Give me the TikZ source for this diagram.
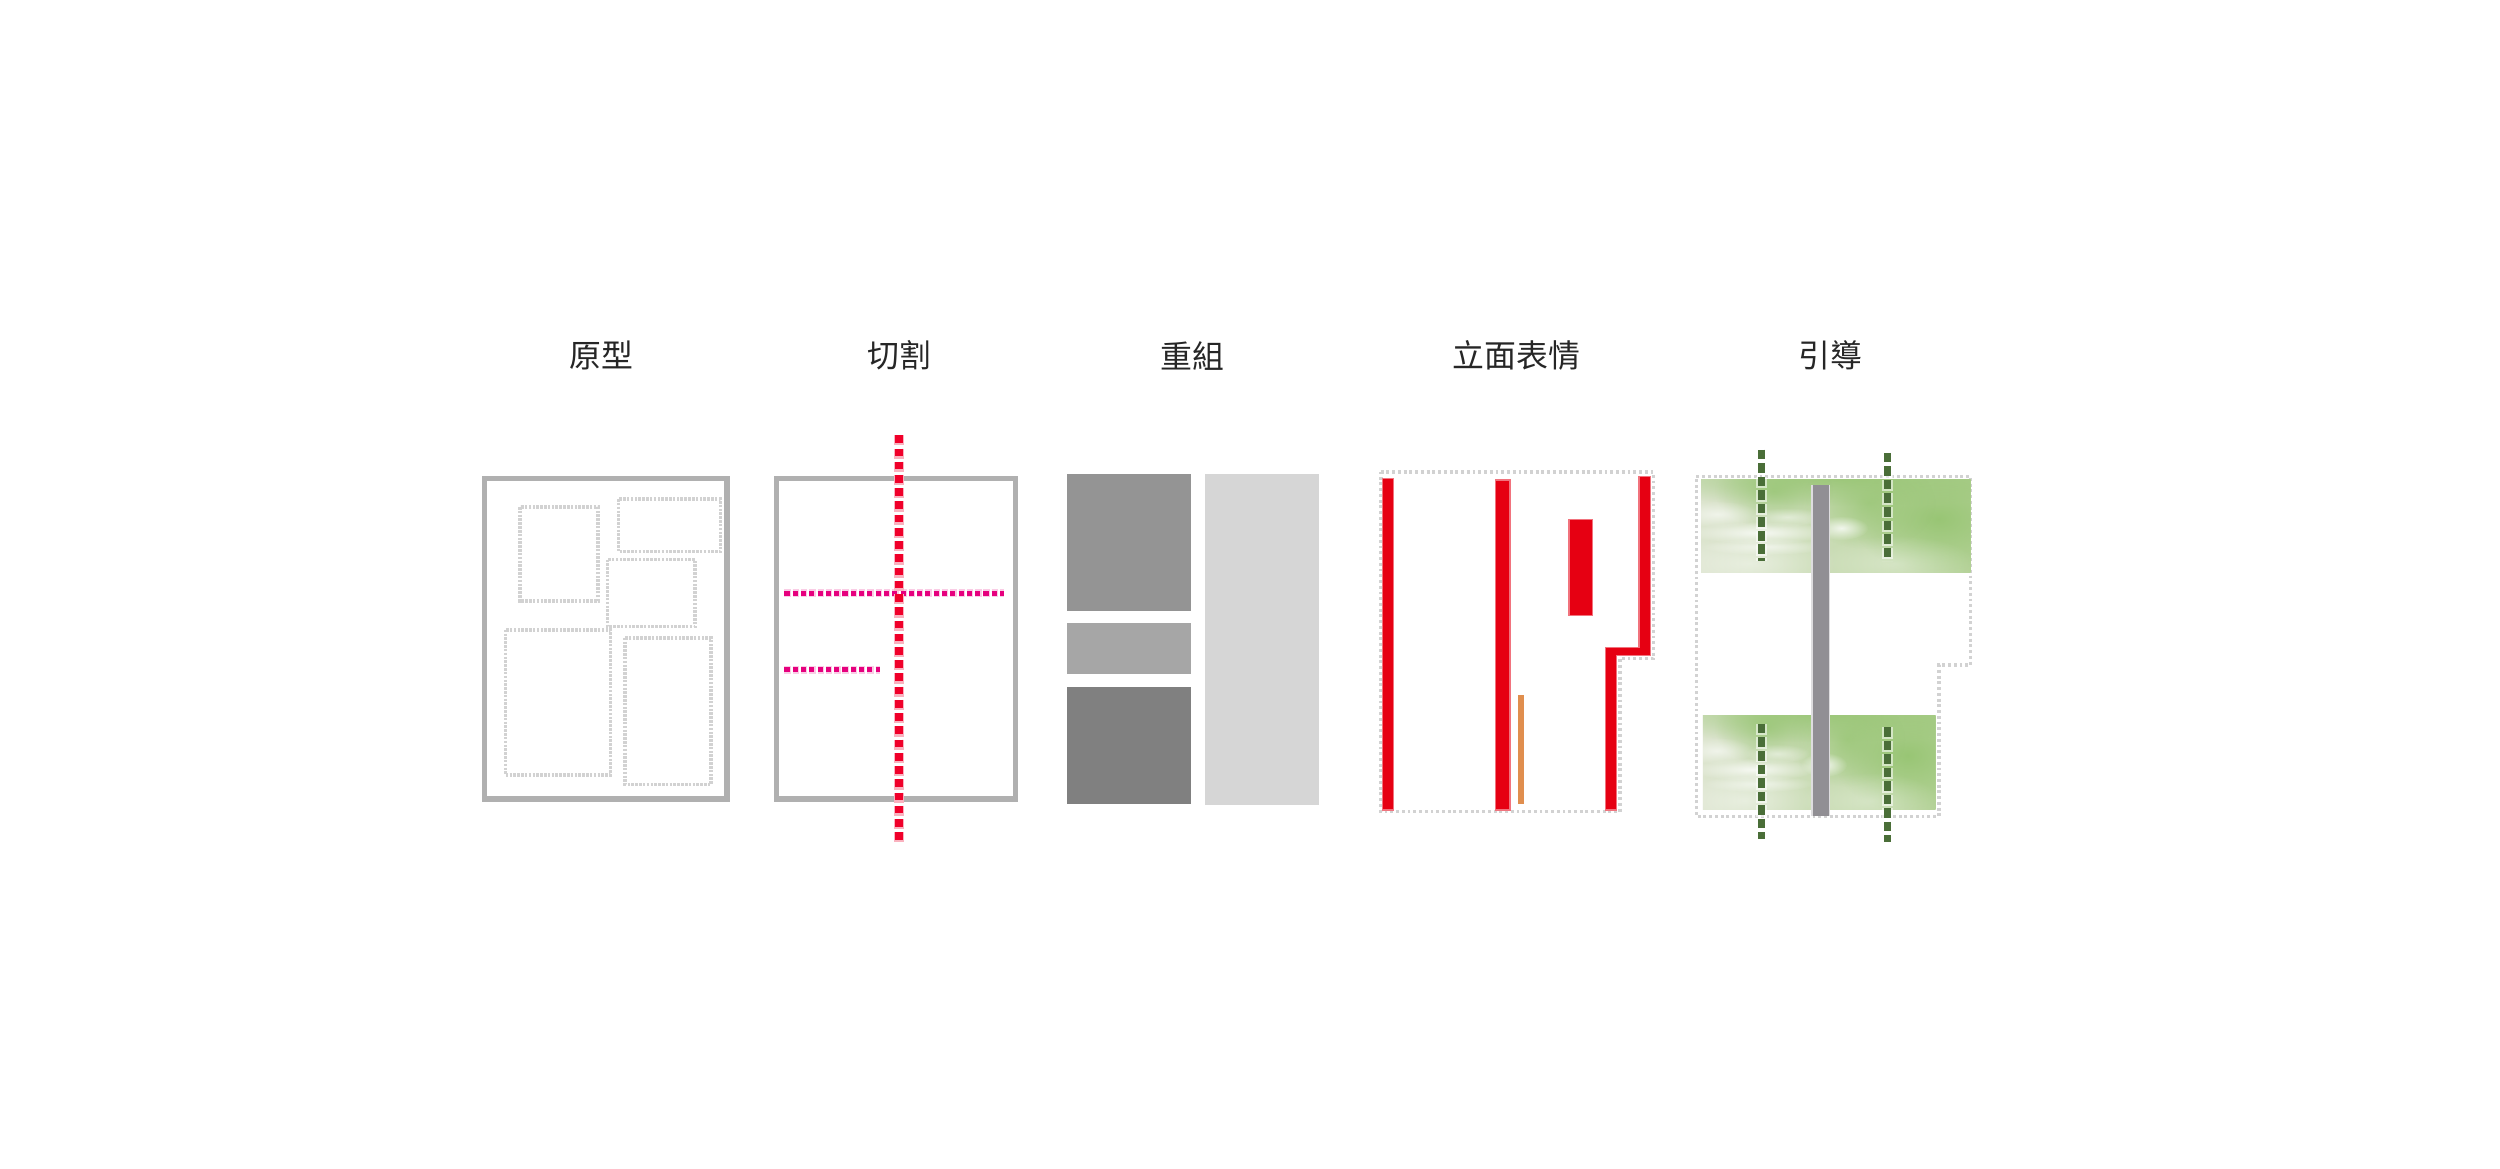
\documentclass[tikz,border=0pt]{standalone}
\usepackage{fontspec}
\newfontfamily\cjkfont{Noto Sans CJK TC}
\usetikzlibrary{fadings}
\tikzfading[name=blobfade, inner color=transparent!0, outer color=transparent!100]
\definecolor{frameg}{HTML}{B0B0B0}
\definecolor{dotg}{HTML}{D2D2D2}
\definecolor{redcut}{HTML}{F0002A}
\definecolor{magcut}{HTML}{E6007E}
\definecolor{redbar}{HTML}{E60012}
\definecolor{orangebar}{HTML}{E08E4E}
\definecolor{barg}{HTML}{918F94}
\definecolor{dashg}{HTML}{4A6E38}
\definecolor{greenpale}{HTML}{DCE4CE}
\definecolor{greenmid}{HTML}{B4D297}
\definecolor{greendeep}{HTML}{95C470}
\tikzset{
  titlelabel/.style={font=\cjkfont\fontsize{10pt}{12pt}\selectfont, text=black!85, inner sep=0pt},
  frame/.style={draw=frameg, line width=1.7pt, fill=white},
  innerdot/.style={draw=dotg, line width=1.1pt, dash pattern=on 0.8pt off 0.4pt},
  outlinedot/.style={draw=dotg, line width=1.1pt, dash pattern=on 0.9pt off 0.9pt},
  redcutline/.style={draw=redcut, line width=2.4pt, dash pattern=on 2.4pt off 1.75pt},
  redhalo/.style={draw=redcut!30, line width=3pt, dash pattern=on 3.2pt off 0.95pt},
  magline/.style={draw=magcut, line width=1.6pt, dash pattern=on 1.6pt off 1pt},
  maghalo/.style={draw=magcut!20, line width=2.6pt, dash pattern=on 2.0pt off 0.6pt},
  greendash/.style={draw=dashg, line width=2.2pt, dash pattern=on 3.0pt off 1.25pt},
  greenhalo/.style={draw=white, opacity=.55, line width=3.4pt, dash pattern=on 3.6pt off 0.65pt},
  redrect/.style={fill=redbar, draw=redbar!55, line width=0.4pt},
  blob/.style={fill=white, path fading=blobfade},
}
% x y width height
\newcommand{\greenpatch}[4]{%
  \begin{scope}
    \clip (#1,#2) rectangle ++(#3,#4);
    \shade[left color=greenpale, right color=greenmid, shading angle=90]
      (#1,#2) rectangle ++(#3,#4);
    \begin{scope}[shift={(#1,#2)}, x=#3*0.5pt, y=-#4*0.5pt]
      \fill[greendeep, path fading=blobfade, opacity=.8] (0.5,-0.02) ellipse (0.9 and 0.3);
      \fill[greendeep, path fading=blobfade, opacity=.9] (0.88,0.42) ellipse (0.32 and 0.6);
      \fill[greendeep, path fading=blobfade, opacity=.7] (0.62,0.25) ellipse (0.25 and 0.5);
      \fill[greendeep, path fading=blobfade, opacity=.7] (0.27,0.12) ellipse (0.22 and 0.4);
      \fill[blob, opacity=.35] (0.72,0.9) ellipse (0.3 and 0.3);
      \fill[blob, opacity=.45] (0.18,0.9) ellipse (0.32 and 0.3);
      \fill[blob, opacity=.6] (0.06,0.37) ellipse (0.16 and 0.14);
      \fill[blob, opacity=.8] (0.22,0.57) ellipse (0.27 and 0.12);
      \fill[blob, opacity=.6] (0.24,0.72) ellipse (0.24 and 0.09);
      \fill[blob, opacity=.8] (0.52,0.52) ellipse (0.1 and 0.13);
      \fill[blob, opacity=.5] (0.32,0.40) ellipse (0.14 and 0.1);
    \end{scope}
  \end{scope}}
\begin{document}
\begin{tikzpicture}[x=0.5pt,y=-0.5pt]
\useasboundingbox (0,0) rectangle (1568,733);
\fill[white] (0,0) rectangle (1568,733);
% titles
\node[titlelabel] (t1) at (377,223) {原型};
\node[titlelabel] (t2) at (564,223) {切割};
\node[titlelabel] (t3) at (748,223) {重組};
\node[titlelabel] (t4) at (951,223) {立面表情};
\node[titlelabel] (t5) at (1148,223) {引導};
% panel 1
\draw[frame] (304,300) rectangle (456,501);
\draw[innerdot] (326,318) rectangle (375,377);
\draw[innerdot] (388,313) rectangle (452,346);
\draw[innerdot] (381,351) rectangle (436,393);
\draw[innerdot] (317,395) rectangle (383,486);
\draw[innerdot] (392,400) rectangle (446,492);
% panel 2
\draw[frame] (487,300) rectangle (637,501);
\draw[maghalo] (492,372) -- (630,372);
\draw[magline] (492,372) -- (630,372);
\draw[maghalo] (492,420) -- (552,420);
\draw[magline] (492,420) -- (552,420);
\draw[redhalo] (564,273) -- (564,528);
\draw[redcutline] (564,273) -- (564,528);
% panel 3
\fill[black!42] (669,297) rectangle (747,383);
\fill[black!35] (669,391) rectangle (747,423);
\fill[black!50] (669,431) rectangle (747,504);
\fill[black!16] (756,297) rectangle (827,505);
% panel 4
\draw[outlinedot] (866,296) -- (1037,296) -- (1037,413) -- (1016,413) -- (1016,509) -- (866,509) -- cycle;
\draw[redrect] (867,300) rectangle (874,508);
\draw[redrect] (938,301) rectangle (947,508);
\draw[redrect] (984,326) rectangle (999,386);
\fill[redbar, draw=redbar!55, line width=0.4pt] (1028,299) -- (1035,299) -- (1035,411) -- (1014,411) -- (1014,508) -- (1007,508) -- (1007,406) -- (1028,406) -- cycle;
\fill[orangebar] (952,436) rectangle (956,504);
% panel 5
\draw[outlinedot] (1064,299) -- (1236,299) -- (1236,417) -- (1216,417) -- (1216,512) -- (1064,512) -- cycle;
\greenpatch{1067}{301}{169}{58}
\greenpatch{1068}{449}{146}{59}
\draw[greenhalo] (1105,282) -- (1105,352);
\draw[greendash] (1105,282) -- (1105,352);
\draw[greenhalo] (1184,284) -- (1184,352);
\draw[greendash] (1184,284) -- (1184,352);
\draw[greenhalo] (1105,454) -- (1105,526);
\draw[greendash] (1105,454) -- (1105,526);
\draw[greenhalo] (1184,456) -- (1184,528);
\draw[greendash] (1184,456) -- (1184,528);
\fill[white!70!barg] (1136,304) rectangle (1148,512);
\fill[barg] (1137,304) rectangle (1147,512);
\end{tikzpicture}
\end{document}
